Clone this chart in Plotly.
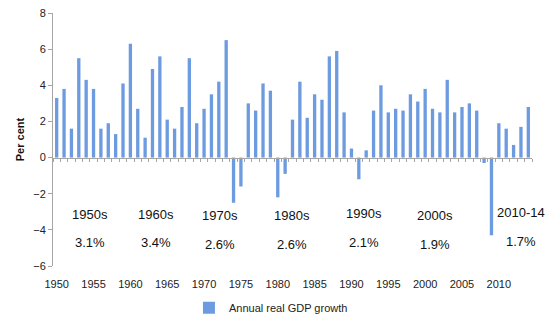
import plotly.graph_objects as go

years = list(range(1950, 2015))
growth = [3.3, 3.8, 1.6, 5.5, 4.3, 3.8, 1.6, 1.9, 1.3, 4.1,
          6.3, 2.7, 1.1, 4.9, 5.6, 2.1, 1.6, 2.8, 5.5, 1.9,
          2.7, 3.5, 4.2, 6.5, -2.5, -1.6, 3.0, 2.6, 4.1, 3.7,
          -2.2, -0.9, 2.1, 4.2, 2.2, 3.5, 3.2, 5.6, 5.9, 2.5,
          0.5, -1.2, 0.4, 2.6, 4.0, 2.5, 2.7, 2.6, 3.5, 3.1,
          3.8, 2.7, 2.5, 4.3, 2.5, 2.8, 3.0, 2.6, -0.3, -4.3,
          1.9, 1.6, 0.7, 1.7, 2.8]
decade_labels = ["1950s", "1960s", "1970s", "1980s", "1990s", "2000s", "2010-14"]
decade_avgs = ["3.1%", "3.4%", "2.6%", "2.6%", "2.1%", "1.9%", "1.7%"]
decade_x = [1954.5, 1963.5, 1972.2, 1981.9, 1991.7, 2001.4, 2013.0]
label_y = [-3.15, -3.15, -3.2, -3.2, -3.1, -3.2, -3.05]
avg_y = [-4.7, -4.7, -4.8, -4.8, -4.7, -4.8, -4.65]
xticks = list(range(1950, 2011, 5))

fig = go.Figure()
fig.add_trace(go.Bar(
    x=years, y=growth, name="Annual real GDP growth",
    width=0.45, marker=dict(color="#6d9be0", line=dict(width=0)),
    showlegend=True,
))
fig.add_trace(go.Scatter(x=[years[0], years[-1]], y=[0, 0], xaxis="x2", yaxis="y",
                         mode="lines", line=dict(width=0), showlegend=False, hoverinfo="skip"))

for lab, avg, xv, ly, ay in zip(decade_labels, decade_avgs, decade_x, label_y, avg_y):
    fig.add_annotation(x=xv, y=ly, xref="x", yref="y", text=lab, showarrow=False,
                       font=dict(size=13, color="#111", family="Liberation Sans"))
    fig.add_annotation(x=xv, y=ay, xref="x", yref="y", text=avg, showarrow=False,
                       font=dict(size=13, color="#111", family="Liberation Sans"))

zero_pos = 6 / 14
fig.update_layout(
    width=553, height=326,
    margin=dict(l=53, r=21, t=13, b=60, autoexpand=False),
    paper_bgcolor="white", plot_bgcolor="white",
    font=dict(family="Liberation Sans", size=11, color="#222"),
    bargap=0.5,
    xaxis=dict(range=[1949.5, 2014.5], tickvals=xticks, showline=False, showgrid=False,
               zeroline=False, ticks="outside", ticklen=8, tickcolor="rgba(0,0,0,0)",
               tickfont=dict(size=11, color="#222"), automargin=False),
    xaxis2=dict(range=[1949.5, 2014.5], overlaying="x", anchor="free", position=zero_pos,
                side="bottom", showline=True, linecolor="#a6a6a6", linewidth=1,
                ticks="outside", ticklen=3, tickcolor="#a6a6a6", dtick=1, tick0=1949.5,
                showticklabels=False, showgrid=False, zeroline=False, automargin=False),
    yaxis=dict(range=[-6, 8], dtick=2, showline=True, linecolor="#a6a6a6", linewidth=1,
               ticks="outside", ticklen=4, tickcolor="#a6a6a6", showgrid=False,
               zeroline=False, tickfont=dict(size=11, color="#222"), automargin=False,
               title=dict(text="<b>Per cent</b>", font=dict(size=11, color="#111"), standoff=6)),
    legend=dict(orientation="h", x=0.455, xanchor="center", y=-0.165, yanchor="middle",
                font=dict(size=11, color="#222"), itemwidth=30),
)
fig.write_html("out.html")
